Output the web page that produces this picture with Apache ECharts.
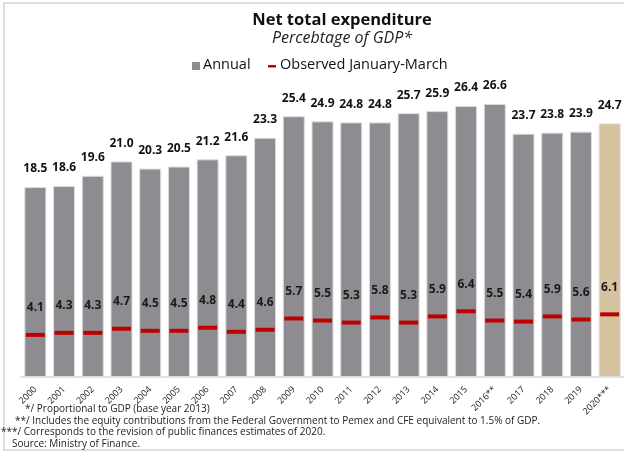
<!DOCTYPE html>
<html>
<head>
<meta charset="utf-8">
<script src="https://cdn.jsdelivr.net/npm/echarts@6/dist/echarts.min.js"></script>
<style>
  html, body { margin: 0; padding: 0; background: #fff; }
  #chart { width: 624px; height: 455px; }
</style>
</head>
<body>
<div id="chart"></div>
<script>
// Fiscal years (footnote markers kept in the labels)
const years = ['2000','2001','2002','2003','2004','2005','2006','2007','2008','2009','2010',
  '2011','2012','2013','2014','2015','2016**','2017','2018','2019','2020***'];
// Net total expenditure, annual, % of GDP
const annual = [18.5,18.6,19.6,21.0,20.3,20.5,21.2,21.6,23.3,25.4,24.9,24.8,24.8,25.7,25.9,26.4,26.6,23.7,23.8,23.9,24.7];
// Observed January-March, % of GDP
const janMar = [4.1,4.3,4.3,4.7,4.5,4.5,4.8,4.4,4.6,5.7,5.5,5.3,5.8,5.3,5.9,6.4,5.5,5.4,5.9,5.6,6.1];

const footnotes = [
  '*/ Proportional to GDP (base year 2013)',
  '**/ Includes the equity contributions from the Federal Government to Pemex and CFE equivalent to 1.5% of GDP.',
  '***/ Corresponds to the revision of public finances estimates of 2020.',
  'Source: Ministry of Finance.'
];

const FONT = '"Open Sans", sans-serif';
const GREY = '#8e8c91';
const SAND = '#d5c39f';
const RED = '#c00000';

const chart = echarts.init(document.getElementById('chart'));

const barData = annual.map((v, i) => ({
  value: v,
  itemStyle: { color: i === annual.length - 1 ? SAND : GREY }
}));

const footX = [25, 15, 1, 12];
const footY = [410, 422, 433, 445];

chart.setOption({
  animation: false,
  backgroundColor: '#fff',
  title: {
    text: 'Net total expenditure',
    subtext: 'Percebtage of GDP*',
    left: 337,
    top: 7,
    textAlign: 'center',
    itemGap: 1,
    textStyle: { fontFamily: FONT, fontSize: 16.5, fontWeight: 'bold', color: '#111' },
    subtextStyle: { fontFamily: FONT, fontSize: 16, fontStyle: 'italic', color: '#222' }
  },
  grid: { left: 21, right: 0, top: 69, bottom: 78 },
  xAxis: {
    type: 'category',
    data: years,
    axisLine: { lineStyle: { color: '#d9d9d9', width: 1.5 } },
    axisTick: { show: false },
    axisLabel: {
      rotate: 45, interval: 0, margin: 11,
      fontFamily: FONT, fontSize: 9, color: '#222'
    }
  },
  yAxis: { type: 'value', min: 0, max: 30, show: false, splitLine: { show: false } },
  series: [
    {
      name: 'Annual',
      type: 'bar',
      data: barData,
      barWidth: 22,
      itemStyle: { borderColor: '#dcdcdc', borderWidth: 1 },
      label: {
        show: true, position: 'top', distance: 12,
        formatter: p => p.value.toFixed(1),
        fontFamily: FONT, fontSize: 12, fontWeight: 'bold', color: '#111'
      }
    },
    {
      name: 'Observed January-March',
      type: 'scatter',
      data: janMar,
      symbol: 'rect',
      symbolSize: [19, 4],
      itemStyle: { color: RED, opacity: 1 },
      z: 5,
      label: {
        show: true, position: 'top', distance: 19,
        formatter: p => p.value.toFixed(1),
        fontFamily: FONT, fontSize: 12, fontWeight: 'bold', color: '#1a1a1a'
      }
    }
  ],
  graphic: [
    {
      type: 'rect', z: 0, silent: true,
      shape: { x: 4, y: 3, width: 660, height: 447 },
      style: { fill: null, stroke: '#dedede', lineWidth: 2 }
    },
    { type: 'rect', left: 192, top: 62, shape: { width: 8, height: 8 }, style: { fill: GREY } },
    { type: 'text', left: 203, top: 57, style: { text: 'Annual', font: '14.5px ' + FONT, fill: '#111' } },
    { type: 'rect', left: 268, top: 65, shape: { width: 8, height: 2.5 }, style: { fill: RED } },
    { type: 'text', left: 280, top: 57, style: { text: 'Observed January-March', font: '14.5px ' + FONT, fill: '#111' } },
    ...footnotes.map((t, i) => ({
      type: 'text', left: footX[i], top: footY[i] - 6,
      style: { text: t, font: '10px ' + FONT, fill: '#222' }
    }))
  ]
});
</script>
</body>
</html>
